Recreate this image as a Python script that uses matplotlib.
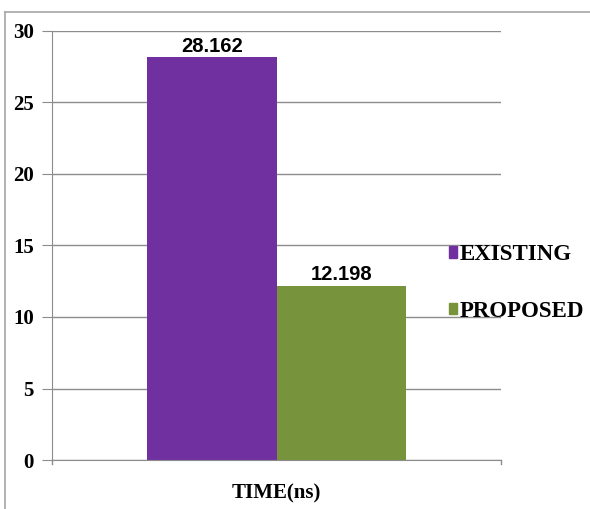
import matplotlib.pyplot as plt
from matplotlib.lines import Line2D
from matplotlib.patches import Patch

# data
category = ["TIME(ns)"]
series = ["EXISTING", "PROPOSED"]
values = [28.162, 12.198]
colors = ["#7030A0", "#77933C"]
yticks = [0, 5, 10, 15, 20, 25, 30]

fig = plt.figure(figsize=(5.9, 5.09), dpi=100)
ax = fig.add_axes([52 / 590, 1 - 460 / 509, 449 / 590, 429 / 509])

# gray frame around the chart (top + left visible in the reference)
fig.add_artist(Line2D([5 / 590, 1.0], [1 - 12 / 509, 1 - 12 / 509],
                      transform=fig.transFigure, color="#a6a6a6", lw=1.2))
fig.add_artist(Line2D([5 / 590, 5 / 590], [0, 1 - 12 / 509],
                      transform=fig.transFigure, color="#a6a6a6", lw=1.2))

width = 0.288
offsets = [-0.144, 0.144]
for name, val, col, off in zip(series, values, colors, offsets):
    ax.bar(off, val, width=width, color=col, zorder=2, label=name)
    ax.text(off, val + 0.1, f"{val:.3f}", ha="center", va="bottom",
            fontsize=14.5, fontweight="bold", family="Liberation Sans", zorder=3)

ax.set_xlim(-0.5, 0.5)
ax.set_ylim(0, 30)
ax.set_yticks(yticks)
ax.set_yticklabels([str(t) for t in yticks], family="Liberation Serif",
                   fontweight="bold", fontsize=15)
ax.set_xticks([0])
ax.set_xticklabels(category, family="Liberation Serif", fontweight="bold", fontsize=15)
ax.tick_params(axis="x", length=0, pad=17)
ax.tick_params(axis="y", length=7, color="#8c8c8c", pad=6)

ax.grid(axis="y", color="#8c8c8c", lw=1, zorder=0)
for s in ["top", "right"]:
    ax.spines[s].set_visible(False)
for s in ["left", "bottom"]:
    ax.spines[s].set_color("#8c8c8c")

# small end ticks of the category axis
ax.plot([-0.5, -0.5], [0, -0.3], color="#8c8c8c", lw=1, clip_on=False)
ax.plot([0.5, 0.5], [0, -0.3], color="#8c8c8c", lw=1, clip_on=False)

handles = [Patch(color=c) for c in colors]
leg = fig.legend(handles, series, loc="center left",
                 bbox_to_anchor=(428 / 590, 1 - 283 / 509),
                 frameon=False, handlelength=0.38, handleheight=0.38,
                 handletextpad=0.12, labelspacing=1.55,
                 prop={"family": "Liberation Serif", "weight": "bold", "size": 16.5})

fig.savefig("out.png", dpi=100)
